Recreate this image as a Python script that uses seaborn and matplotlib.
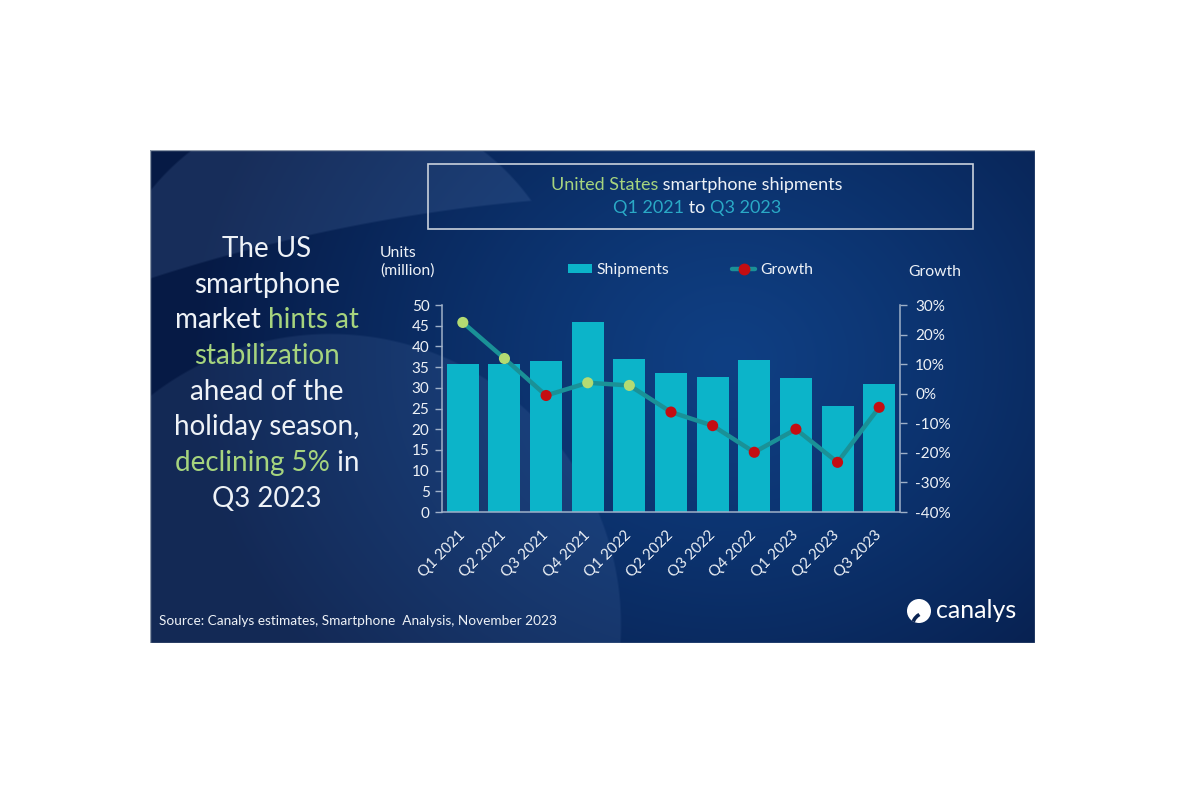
import numpy as np
import pandas as pd
import matplotlib
matplotlib.use("Agg")
import matplotlib.pyplot as plt
import seaborn as sns
from matplotlib.patches import Rectangle, Patch, Circle, Arc
from matplotlib.lines import Line2D
from matplotlib.colors import to_rgb

# data
quarters = ["Q1 2021", "Q2 2021", "Q3 2021", "Q4 2021", "Q1 2022", "Q2 2022",
            "Q3 2022", "Q4 2022", "Q1 2023", "Q2 2023", "Q3 2023"]
shipments = [35.7, 35.7, 36.5, 45.9, 36.9, 33.5, 32.5, 36.6, 32.4, 25.7, 31.0]
growth = [24.1, 11.9, -0.6, 3.7, 2.8, -6.2, -10.8, -19.8, -12.0, -23.2, -4.6]
left_ticks = [0, 5, 10, 15, 20, 25, 30, 35, 40, 45, 50]
right_ticks = [-40, -30, -20, -10, 0, 10, 20, 30]

headline = [
    [("The US", "white")],
    [("smartphone", "white")],
    [("market ", "white"), ("hints at", "green")],
    [("stabilization", "green")],
    [("ahead of the", "white")],
    [("holiday season,", "white")],
    [("declining 5%", "green"), (" in", "white")],
    [("Q3 2023", "white")],
]

BAR = "#0cb4c9"
LINE = "#1a9197"
POS = "#b3db72"
NEG = "#c40d12"
GREEN = "#a6d47e"
CYAN = "#2aa9c6"
WHITE = "#eef2f7"
AXIS = "#9fb0c8"

sns.set_style("ticks")
plt.rcParams["font.family"] = ["Lato", "DejaVu Sans"]

fig = plt.figure(figsize=(12, 8), dpi=100, facecolor="white")
renderer = fig.canvas.get_renderer()

# --- slide background (pixel coordinates) ---
bg = fig.add_axes([150 / 1200, 1 - 643 / 800, 885 / 1200, 493 / 800], zorder=0)
bg.set_xlim(150, 1035)
bg.set_ylim(643, 150)
bg.axis("off")

yy, xx = np.mgrid[150:643, 150:1035] + 0.5
d = np.hypot((xx - 730) / 1.15, yy - 360)
t = np.clip(d / 470, 0, 1)[..., None] ** 1.2
img = np.array(to_rgb("#0f3f83")) * (1 - t) + np.array(to_rgb("#061a45")) * t

light = np.array(to_rgb("#6f8fc4"))
dA = np.hypot(xx - 337, yy - 340)
dB = np.hypot(xx - 684, yy - 1923)
crescent = np.clip((240 - dA) / 2, 0, 1) * np.clip((dB - 1728) / 2, 0, 1)
dC = np.hypot(xx - 330, yy - 625)
lower = np.clip((292 - dC) / 2, 0, 1)
for m, a in [(crescent, 0.17), (lower, 0.13)]:
    img = img + (light - img) * (a * m)[..., None]
bg.imshow(img, extent=(150, 1035, 643, 150), aspect="auto", interpolation="bilinear")
bg.add_patch(Rectangle((150, 150), 885, 493, fill=False, ec="#8e9aab", lw=1))

colors = {"white": WHITE, "green": GREEN, "cyan": CYAN}


def text_width(s, size):
    tx = fig.text(0, 0, s, fontsize=size)
    w = tx.get_window_extent(renderer).width
    tx.remove()
    return w


def rich_line(cx, y, parts, size):
    full = "".join(p for p, _ in parts)
    start = cx - text_width(full, size) / 2
    prefix = ""
    for s, c in parts:
        off = text_width(prefix + "|", size) - text_width("|", size) if prefix else 0
        bg.text(start + off, y, s, fontsize=size, color=colors[c], ha="left", va="baseline")
        prefix += s


for i, parts in enumerate(headline):
    rich_line(267, 257 + i * 35.7, parts, 20)

# title box
bg.add_patch(Rectangle((428, 164), 545, 65, fill=False, ec="#c9d1dc", lw=1.2))
rich_line(697, 190, [("United States", "green"), (" smartphone shipments", "white")], 13)
rich_line(697, 213, [("Q1 2021", "cyan"), (" to ", "white"), ("Q3 2023", "cyan")], 13)

bg.text(380, 257, "Units", fontsize=11.3, color=WHITE, va="baseline")
bg.text(380, 275, "(million)", fontsize=11.3, color=WHITE, va="baseline")
bg.text(908, 276, "Growth", fontsize=11.3, color=WHITE, va="baseline")
bg.text(159, 625, "Source: Canalys estimates, Smartphone  Analysis, November 2023",
        fontsize=9.8, color=WHITE, va="baseline")

# canalys logo
disc = Circle((919, 611), 12, fc="white", ec="none")
bg.add_patch(disc)
notch = Arc((933, 624), 40, 26, theta1=95, theta2=215, color="#0a2352", lw=2.6)
bg.add_patch(notch)
notch.set_clip_path(disc)
bg.text(936, 618, "canalys", fontsize=18, color="white", va="baseline")

# --- chart ---
ax = fig.add_axes([442 / 1200, 1 - 512 / 800, 458 / 1200, 207 / 800], zorder=1)
ax.patch.set_visible(False)
df = pd.DataFrame({"quarter": quarters, "shipments": shipments, "growth": growth})
df["pos"] = np.arange(len(df))
df["sign"] = np.where(df["growth"] >= 0, "up", "down")

sns.barplot(data=df, x="quarter", y="shipments", color=BAR, saturation=1,
            width=0.77, linewidth=0, ax=ax)
ax.set_ylim(0, 50)
ax.set_yticks(left_ticks)
ax.set_xlabel("")
ax.set_ylabel("")

ax2 = ax.twinx()
ax2.set_zorder(2)
ax2.patch.set_visible(False)
sns.lineplot(data=df, x="pos", y="growth", color=LINE, lw=3.2, ax=ax2, zorder=2)
sns.scatterplot(data=df, x="pos", y="growth", hue="sign", palette={"up": POS, "down": NEG},
                s=64, edgecolor="none", legend=False, ax=ax2, zorder=3)
ax2.set_ylim(-40, 30)
ax2.set_yticks(right_ticks)
ax2.set_yticklabels([f"{v}%" for v in right_ticks])
ax2.set_xlim(-0.5, len(df) - 0.5)
ax2.set_xlabel("")
ax2.set_ylabel("")

for a in (ax, ax2):
    for s in a.spines.values():
        s.set_color(AXIS)
        s.set_linewidth(1.1)
    a.spines["top"].set_visible(False)
ax.spines["right"].set_visible(False)
ax2.spines["left"].set_visible(False)
ax2.spines["bottom"].set_visible(False)

ax.tick_params(axis="y", colors=AXIS, labelcolor=WHITE, labelsize=11, length=5, width=1, pad=4)
ax2.tick_params(axis="y", colors=AXIS, labelcolor=WHITE, labelsize=11, length=5, width=1, pad=6)
ax.tick_params(axis="x", length=0, labelcolor=WHITE, labelsize=10.8, pad=15)
for lab in ax.get_xticklabels():
    lab.set_rotation(45)
    lab.set_ha("right")
    lab.set_va("center")
    lab.set_rotation_mode("anchor")

handles = [Patch(fc=BAR, ec="none"),
           Line2D([], [], color=LINE, lw=3.2, marker="o", ms=7.5, mfc=NEG, mec=NEG)]
fig.legend(handles, ["Shipments", "Growth"], ncol=2, frameon=False, loc="center left",
           bbox_to_anchor=(568 / 1200, 1 - 270 / 800), borderpad=0, borderaxespad=0,
           fontsize=11.3, labelcolor=WHITE, handlelength=1.5, handletextpad=0.3,
           columnspacing=4.0, handleheight=0.55)

fig.savefig("out.png", dpi=100, facecolor="white")
